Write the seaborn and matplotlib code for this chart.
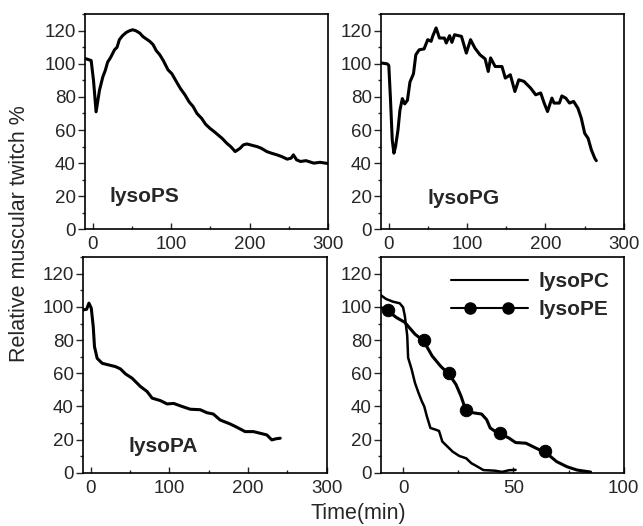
import matplotlib
matplotlib.use("Agg")
import matplotlib.pyplot as plt
from matplotlib.lines import Line2D
from matplotlib.legend_handler import HandlerLine2D
from matplotlib.ticker import MultipleLocator
import seaborn as sns

# lysoPS (top left)
ps_t = [-10.6, -2, 1, 4.3, 8.6, 12.8, 16, 19, 23, 27.8, 31, 34, 38, 42.8, 47, 51, 55, 60, 64, 68.5, 73,
        77, 81, 85.5, 90, 96, 101, 107, 112, 117.6, 123, 128, 133, 139, 144, 149.6, 155, 160, 165, 171,
        176, 181.7, 185, 188, 192, 196.7, 203, 209.5, 215, 222, 228, 235, 241, 248, 253, 256, 260, 265,
        272, 282, 290, 301]
ps_v = [103.4, 102, 90, 71, 84, 92, 96, 101, 104, 108.5, 110, 114.6, 117, 119, 120, 120.6, 120, 118.6, 116.5,
        115, 113.5, 111.6, 108, 105.5, 102, 96.4, 94, 89, 85, 81.3, 77, 74.2, 70, 67, 63.5, 61, 59, 57,
        55, 52, 50, 47, 48, 49, 51, 51.6, 50.8, 50, 49, 47, 46, 45, 44, 42.4, 43, 45, 42, 41, 41.5, 40,
        40.5, 39.7]

# lysoPG (top right)
pg_t = [-9.4, -2, 0, 2, 4.4, 6.5, 8.6, 11.7, 14.2, 17.3, 20.3, 23.8, 27, 31.5, 34.5, 38.8, 45, 49.7, 54,
        56, 60.4, 64.7, 71, 73.4, 77.6, 80.6, 84, 92.8, 99, 104.4, 110, 116.4, 123, 127, 130, 135.8, 144.5,
        148.8, 155.2, 161, 166, 172.6, 181, 187.6, 194, 198.4, 202.7, 208.3, 211, 217.8, 221, 226, 230.8,
        236, 241.5, 245.8, 250.2, 254.5, 258.7, 263, 265]
pg_v = [100.5, 100, 99, 80, 54, 46, 50, 60, 72, 79, 75.8, 78, 89, 94, 105.5, 108.5, 109, 114.6, 113.6,
        116.6, 121.7, 115.6, 115.6, 112.6, 117, 113, 117.6, 116.6, 106.5, 114.6, 109.5, 105.5, 103, 95.4,
        103.6, 98.4, 98.4, 91.4, 93.4, 83.3, 90.4, 89.4, 85.4, 81.3, 82.4, 76.3, 71.2, 79.3, 76.3, 76.3,
        80.6, 79.3, 76.3, 77.3, 73.2, 67.2, 58, 55, 48, 43, 41.5]

# lysoPA (bottom left)
pa_t = [-9.6, -5, -2.1, 0.9, 3.4, 5, 8.4, 14.8, 23.2, 31.7, 38, 44.4, 52.8, 63.4, 71.8, 78.2, 88.7, 97.2,
        105.6, 116, 126.7, 139.4, 147.8, 156, 164.7, 177.4, 186, 196.4, 207, 215.5, 224, 230.3, 236, 241]
pa_v = [98.2, 98.6, 102.3, 99.3, 88.2, 76, 69, 66, 65, 64, 62.6, 59.6, 57, 52, 49, 45, 43.5, 41.5, 41.8,
        40, 38.3, 38, 36.2, 35.4, 31.8, 29.4, 27.4, 24.8, 24.8, 23.8, 22.8, 19.8, 20.5, 20.8]

# lysoPC (bottom right)
pc_t = [-10.3, -7.7, -4.6, -1.5, 0, 0.8, 1.9, 2.3, 3.9, 5.4, 7, 8.5, 9.6, 10.8, 12.4, 14.7, 16.3, 17.8,
        20.1, 22.5, 25.5, 28.6, 31, 33.3, 36.4, 41.8, 44.9, 48, 51]
pc_v = [107.3, 104.8, 103.2, 102.2, 99.8, 94.7, 82.6, 69.4, 62.3, 54.2, 48.2, 43.1, 40, 34, 27, 26, 25.2,
        18.8, 15.8, 12.7, 10.1, 8.7, 5.7, 4, 1.6, 1.2, 0.5, 1.5, 1.7]

# lysoPE (bottom right)
pe_t = [-10.3, -7, -3.1, 0.8, 5.4, 9.3, 13.2, 17, 20.9, 24, 26.3, 28.6, 32.5, 35.6, 37.9, 39.5, 41.8, 44.1,
        48, 51, 55.7, 60.3, 65, 69.6, 74.3, 78.9, 85]
pe_v = [99.8, 97.8, 93.7, 90.7, 83.6, 79.5, 70.4, 64.3, 59.3, 53.2, 46.1, 37, 36, 35.4, 32, 27, 24.9, 23.5,
        20.9, 18.2, 17.8, 14.8, 11.8, 6.7, 3.6, 1.6, 0.4]
pe_mark_t = [-7, 9.5, 21, 28.5, 44, 64.5]
pe_mark_v = [98, 80, 60, 38, 24, 13]

sns.set_style("ticks")
plt.rcParams['font.family'] = ['Liberation Sans', 'DejaVu Sans']
plt.rcParams['font.size'] = 13.5

fig = plt.figure(figsize=(6.43, 5.26), dpi=100)
ax1 = fig.add_axes([0.132, 0.564, 0.378, 0.409])
ax2 = fig.add_axes([0.5925, 0.564, 0.3775, 0.409])
ax3 = fig.add_axes([0.1286, 0.1013, 0.3794, 0.4097])
ax4 = fig.add_axes([0.5925, 0.1013, 0.3775, 0.4097])

sns.lineplot(x=ps_t, y=ps_v, ax=ax1, color="black", lw=2.2, sort=False)
sns.lineplot(x=pg_t, y=pg_v, ax=ax2, color="black", lw=2.2, sort=False)
sns.lineplot(x=pa_t, y=pa_v, ax=ax3, color="black", lw=2.2, sort=False)
sns.lineplot(x=pc_t, y=pc_v, ax=ax4, color="black", lw=1.8, sort=False)
sns.lineplot(x=pe_t, y=pe_v, ax=ax4, color="black", lw=2.2, sort=False)
sns.scatterplot(x=pe_mark_t, y=pe_mark_v, ax=ax4, color="black", s=80, edgecolor="black", zorder=3)

for ax in [ax1, ax2, ax3, ax4]:
    ax.set_ylim(0, 130)
    ax.yaxis.set_major_locator(MultipleLocator(20))
    ax.yaxis.set_minor_locator(MultipleLocator(10))
    ax.tick_params(axis="y", which="both", direction="out", length=5, width=1, labelsize=13.5, pad=1.5)
    ax.tick_params(axis="y", which="minor", length=2.5)
    ax.tick_params(axis="x", which="both", direction="in", length=4, width=1, labelsize=13.5, pad=5)
    ax.tick_params(axis="x", which="minor", length=2.5)
    for s in ax.spines.values():
        s.set_linewidth(1.2)
        s.set_color("black")
    ax.set_xlabel("")
    ax.set_ylabel("")

for ax in [ax1, ax2, ax3]:
    ax.set_xlim(-10, 300)
    ax.xaxis.set_major_locator(MultipleLocator(100))
    ax.xaxis.set_minor_locator(MultipleLocator(50))

ax4.set_xlim(-10, 100)
ax4.xaxis.set_major_locator(MultipleLocator(50))
ax4.xaxis.set_minor_locator(MultipleLocator(25))

ax1.text(0.247, 0.153, "lysoPS", transform=ax1.transAxes, ha="center", va="center",
         fontsize=15, fontweight="bold")
ax2.text(0.34, 0.144, "lysoPG", transform=ax2.transAxes, ha="center", va="center",
         fontsize=15, fontweight="bold")
ax3.text(0.33, 0.12, "lysoPA", transform=ax3.transAxes, ha="center", va="center",
         fontsize=15, fontweight="bold")

pc_handle = Line2D([], [], color="black", lw=1.5)
pe_line = Line2D([], [], color="black", lw=1.5)
pe_dots = Line2D([], [], color="black", ls="none", marker="o", markersize=8)
leg = ax4.legend([pc_handle, (pe_line, pe_dots)], ["lysoPC", "lysoPE"], loc="upper right",
                 frameon=False, handlelength=3.7, prop={"weight": "bold", "size": 15},
                 borderaxespad=0.3, handletextpad=0.5, labelspacing=0.45,
                 handler_map={pe_dots: HandlerLine2D(marker_pad=0.95, numpoints=2)})

fig.text(0.031, 0.555, "Relative muscular twitch %", rotation=90, ha="center", va="center", fontsize=15.5)
fig.text(0.558, 0.023, "Time(min)", ha="center", va="center", fontsize=15.5)

fig.savefig("out.png", dpi=100)
